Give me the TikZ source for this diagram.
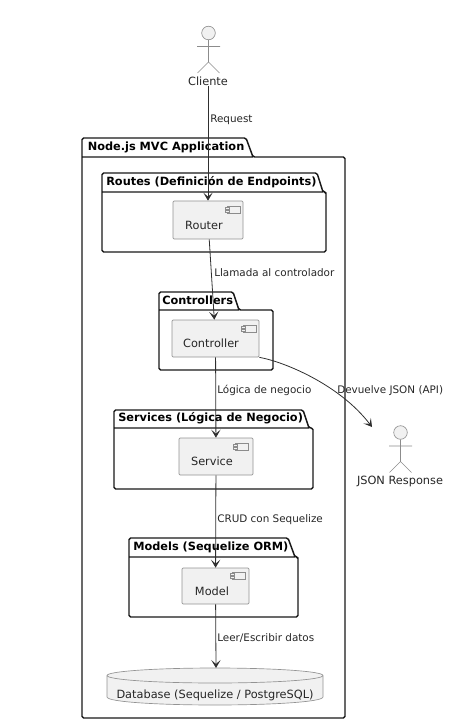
\documentclass[tikz,border=0pt]{standalone}
\usepackage{fontspec}
\setmainfont{DejaVu Sans}
\usetikzlibrary{arrows.meta}
\definecolor{mycolor}{RGB}{24,24,24}
\definecolor{myfill}{RGB}{241,241,241}
\tikzset{
  pkg/.style={line width=1.1pt, draw=mycolor, rounded corners=1.2pt},
  pkgtitle/.style={font=\bfseries\fontsize{8.5}{10}\selectfont, text=black, inner sep=0pt, anchor=west},
  comp/.style={draw=gray!85, fill=myfill, line width=0.5pt, rounded corners=0.8pt, inner sep=0pt},
  comptext/.style={font=\fontsize{8.5}{10}\selectfont, text=black!85, inner sep=0pt},
  arrowlabel/.style={font=\fontsize{7.8}{10}\selectfont, text=black!85, inner sep=0pt, anchor=west},
  link/.style={draw=mycolor!90, line width=0.6pt, -{Stealth[length=6pt,width=7pt,inset=3pt]}},
  actor/.pic={
    \draw[draw=gray!90, fill=myfill, line width=0.45pt] (0,-13) circle (6.8);
    \draw[draw=gray!90, line width=0.45pt] (0,-6) -- (0,16) (-11.5,0.5) -- (11.5,0.5)
      (-11,27) -- (0,16) -- (11,27);
  },
  compicon/.pic={
    \draw[draw=gray!90, fill=myfill, line width=0.45pt] (0,0) rectangle (13,7.5);
    \draw[draw=gray!90, fill=myfill, line width=0.35pt] (-2,1.2) rectangle (2,2.8) (-2,4.6) rectangle (2,6.2);
  }
}

\begin{document}
\begin{tikzpicture}[x=0.75pt,y=-0.75pt]
\useasboundingbox (0,0) rectangle (466,727);

% application package
\draw[pkg] (82,157) -- (82,138) -- (246,138) -- (253,157) -- (345,157) -- (345,718) -- (82,718) -- cycle (82,157) -- (253,157);
\node[pkgtitle] (apptitle) at (87.5,147) {Node.js MVC Application};

% inner packages
\draw[pkg] (102,192) -- (102,173) -- (317,173) -- (323,192) -- (326,192) -- (326,252) -- (102,252) -- cycle (102,192) -- (323,192);
\node[pkgtitle] (routestitle) at (106,182) {Routes (Definición de Endpoints)};

\draw[pkg] (159,310) -- (159,292) -- (233,292) -- (239,310) -- (273,310) -- (273,370) -- (159,370) -- cycle (159,310) -- (239,310);
\node[pkgtitle] (ctrltitle) at (162,300) {Controllers};

\draw[pkg] (114,428) -- (114,410) -- (303,410) -- (309,428) -- (313,428) -- (313,489) -- (114,489) -- cycle (114,428) -- (309,428);
\node[pkgtitle] (servtitle) at (118,418) {Services (Lógica de Negocio)};

\draw[pkg] (129,557) -- (129,538) -- (288,538) -- (295,557) -- (298,557) -- (298,617) -- (129,617) -- cycle (129,557) -- (295,557);
\node[pkgtitle] (modtitle) at (133,547) {Models (Sequelize ORM)};

% components
\node[comp, minimum width=52.5pt, minimum height=28.5pt] (router) at (208,220) {};
\node[comptext] (routertext) at (204,225) {Router};
\pic at (227,206) {compicon};

\node[comp, minimum width=65.25pt, minimum height=27.75pt] (controller) at (215.5,338.5) {};
\node[comptext] (controllertext) at (211,343) {Controller};
\pic at (243,325) {compicon};

\node[comp, minimum width=55.5pt, minimum height=27.75pt] (service) at (216,456.5) {};
\node[comptext] (servicetext) at (212,461) {Service};
\pic at (235,443) {compicon};

\node[comp, minimum width=50.25pt, minimum height=27pt] (model) at (215.5,586) {};
\node[comptext] (modeltext) at (212,591) {Model};
\pic at (232,572) {compicon};

% database
\draw[draw=gray!85, fill=myfill, line width=0.5pt] (107,675.5) -- (107,697) .. controls (107,702) and (160,705) .. (215,705)
  .. controls (270,705) and (323,702) .. (323,697) -- (323,675.5);
\draw[draw=gray!85, fill=myfill, line width=0.5pt] (215,675.5) ellipse (108 and 7.5);
\node[comptext] (db) at (215,695) {Database (Sequelize / PostgreSQL)};
\coordinate (dbtop) at (216,668);

% actors
\pic at (208.5,46) {actor};
\node[comptext] (cliente) at (208,81) {Cliente};
\pic at (400.5,445.5) {actor};
\node[comptext] (json) at (400,481) {JSON Response};
\coordinate (jsonend) at (372,427);

% arrows
\draw[link] (cliente) -- (router);
\draw[link] (router) -- (controller);
\draw[link] (controller) -- (service);
\draw[link] (service) -- (model);
\draw[link] (model) -- (dbtop);
\draw[link] (controller.south east) .. controls (285,362) and (340,385) .. (jsonend);

% labels
\node[arrowlabel] (requestlabel) at (210,119.5) {Request};
\node[arrowlabel] (calllabel) at (214,272.5) {Llamada al controlador};
\node[arrowlabel] (logiclabel) at (217,390.5) {Lógica de negocio};
\node[arrowlabel] (jsonlabel) at (337,390.5) {Devuelve JSON (API)};
\node[arrowlabel] (crudlabel) at (217,519.5) {CRUD con Sequelize};
\node[arrowlabel] (dblabel) at (217,638.5) {Leer/Escribir datos};
\end{tikzpicture}
\end{document}
